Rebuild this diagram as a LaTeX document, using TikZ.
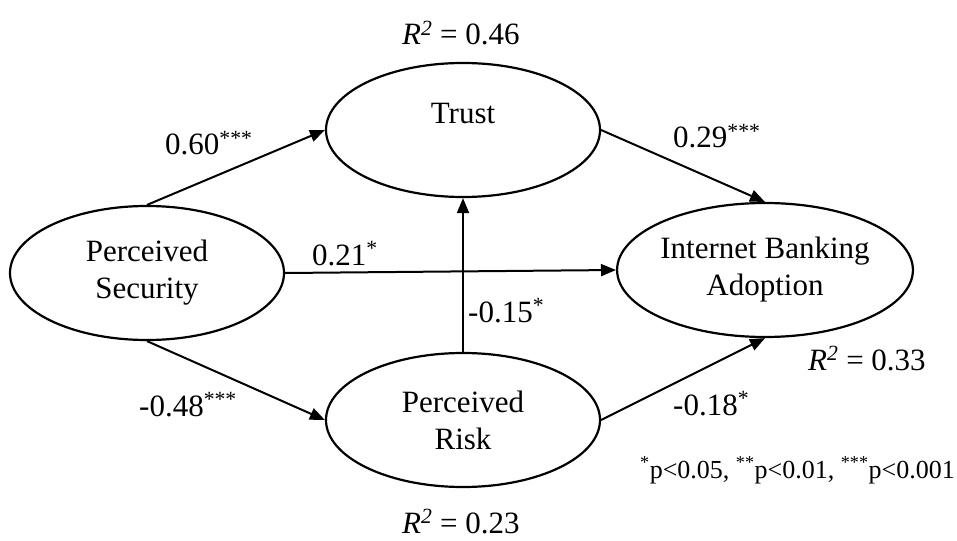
\documentclass[tikz,border=0pt]{standalone}
\usepackage{fontspec}
\setmainfont{Liberation Serif}
\usetikzlibrary{shapes.geometric,arrows.meta}

\newcommand{\rsq}[1]{\textit{R}\textsuperscript{\textit{2}}\ = #1}

\begin{document}
\begin{tikzpicture}[x=1pt,y=-1pt,
  latent/.style={ellipse,draw,line width=2.2pt,minimum width=274pt,minimum height=134pt,
    inner sep=0pt,align=center,font=\fontsize{31}{37}\selectfont},
  effect/.style={line width=2pt,-{Triangle[length=15pt,width=12pt]}},
  coef/.style={anchor=base west,inner sep=0pt,font=\fontsize{31}{37}\selectfont}]
  \useasboundingbox (0,0) rectangle (957,540);
  % constructs
  \node[latent] (secu) at (147,273) {Perceived\\Security};
  \node[latent] (trust) at (463,130) {\raisebox{16pt}[\height][\depth]{Trust}};
  \node[latent] (risk) at (463,420) {Perceived\\Risk};
  \node[latent] (adopt) at (765,270) {Internet Banking\\Adoption};
  % paths
  \draw[effect] (secu.north) -- (trust.west);
  \draw[effect] (trust.east) -- (adopt.north);
  \draw[effect] (secu.east) -- (adopt.west);
  \draw[effect] (risk.north) -- (trust.south);
  \draw[effect] (secu.south) -- (risk.west);
  \draw[effect] (risk.east) -- (adopt.south);
  % coefficients
  \node[coef] (c1) at (165,155) {0.60\textsuperscript{***}};
  \node[coef] (c2) at (673,148) {0.29\textsuperscript{***}};
  \node[coef] (c3) at (312,265) {0.21\textsuperscript{*}};
  \node[coef] (c4) at (468,322) {-0.15\textsuperscript{*}};
  \node[coef] (c5) at (139,416) {-0.48\textsuperscript{***}};
  \node[coef] (c6) at (673,415) {-0.18\textsuperscript{*}};
  % explained variance
  \node[coef] (r1) at (402,45) {\rsq{0.46}};
  \node[coef] (r2) at (808,370) {\rsq{0.33}};
  \node[coef] (r3) at (402,533) {\rsq{0.23}};
  % significance
  \node[coef,font=\fontsize{26}{30}\selectfont] (sig) at (640,478)
    {\textsuperscript{*}p<0.05, \textsuperscript{**}p<0.01, \textsuperscript{***}p<0.001};
\end{tikzpicture}
\end{document}
